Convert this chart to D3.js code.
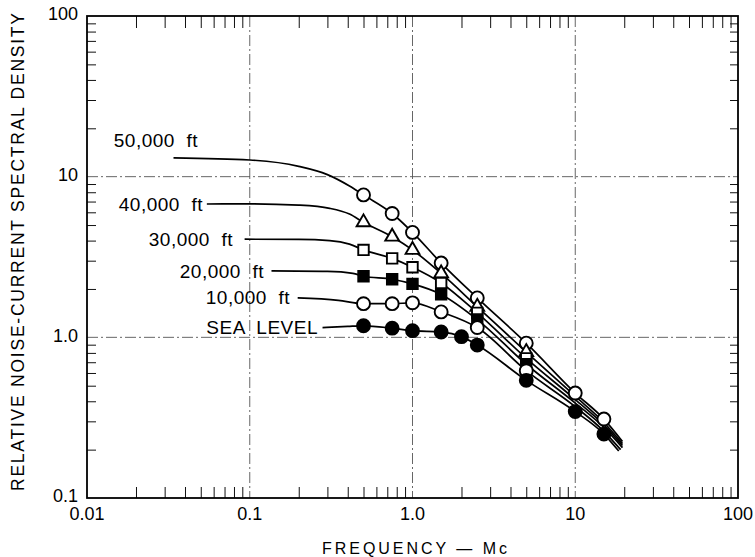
<!DOCTYPE html>
<html>
<head>
<meta charset="utf-8">
<script src="https://cdn.jsdelivr.net/npm/d3@7"></script>
<style>
  html, body { margin: 0; padding: 0; background: #fff; }
  svg { display: block; font-family: "Liberation Sans", Arial, Helvetica, sans-serif; }
  text { white-space: pre; }
</style>
</head>
<body>
<svg id="chart" width="755" height="557"></svg>
<script>
// ---------- DATA ----------
const seriesNames = ["50,000  ft", "40,000  ft", "30,000  ft", "20,000  ft", "10,000  ft", "SEA  LEVEL"];
const markerShapes = ["openCircle", "openTriangle", "openSquare", "filledSquare", "openCircle", "filledCircle"];

// curve points (frequency in Mc, relative density)
const s50k_f = [0.034, 0.1, 0.2, 0.3, 0.41, 0.5, 0.75, 1.0, 1.5, 2.5, 5, 10, 15, 19.5];
const s50k_v = [13.1, 12.7, 11.6, 10.3, 8.75, 7.7, 5.9, 4.5, 2.9, 1.76, 0.92, 0.45, 0.31, 0.225];
const s40k_f = [0.0545, 0.1, 0.2, 0.31, 0.41, 0.5, 0.75, 1.0, 1.5, 2.5, 5, 10, 15, 19.5];
const s40k_v = [6.76, 6.78, 6.65, 6.35, 5.85, 5.2, 4.23, 3.5, 2.5, 1.55, 0.81, 0.43, 0.295, 0.218];
const s30k_f = [0.093, 0.2, 0.31, 0.41, 0.5, 0.75, 1.0, 1.5, 2.5, 5, 10, 15, 19.5];
const s30k_v = [4.08, 4.07, 4.0, 3.8, 3.5, 3.1, 2.73, 2.18, 1.42, 0.74, 0.41, 0.285, 0.212];
const s20k_f = [0.136, 0.3, 0.43, 0.5, 0.75, 1.0, 1.5, 2.5, 5, 10, 15, 19.5];
const s20k_v = [2.59, 2.57, 2.5, 2.4, 2.3, 2.15, 1.85, 1.29, 0.68, 0.39, 0.275, 0.206];
const s10k_f = [0.197, 0.35, 0.5, 0.75, 1.0, 1.5, 2.5, 5, 10, 15, 19];
const s10k_v = [1.76, 1.7, 1.62, 1.62, 1.64, 1.44, 1.15, 0.62, 0.37, 0.26, 0.2];
const sSea_f = [0.28, 0.4, 0.5, 0.75, 1.0, 1.5, 2.0, 2.5, 5, 10, 15, 18.5];
const sSea_v = [1.15, 1.17, 1.18, 1.14, 1.1, 1.08, 1.01, 0.895, 0.54, 0.345, 0.25, 0.196];

// frequencies where a marker is plotted
const s50k_marks = [0.5, 0.75, 1.0, 1.5, 2.5, 5, 10, 15];
const s40k_marks = [0.5, 0.75, 1.0, 1.5, 2.5, 5];
const s30k_marks = [0.5, 0.75, 1.0, 1.5, 2.5, 5];
const s20k_marks = [0.5, 0.75, 1.0, 1.5, 2.5, 5];
const s10k_marks = [0.5, 0.75, 1.0, 1.5, 2.5, 5];
const sSea_marks = [0.5, 0.75, 1.0, 1.5, 2.0, 2.5, 5, 10, 15];

const xTickValues = [0.01, 0.1, 1, 10, 100];
const xTickLabels = ["0.01", "0.1", "1.0", "10", "100"];
const yTickValues = [0.1, 1, 10, 100];
const yTickLabels = ["0.1", "1.0", "10", "100"];
const xGridValues = [0.1, 1, 10];
const yGridValues = [1, 10];

const xTitle = "FREQUENCY — Mc";
const yTitle = "RELATIVE NOISE-CURRENT SPECTRAL DENSITY";

// ---------- BUILD ----------
const curvesF = [s50k_f, s40k_f, s30k_f, s20k_f, s10k_f, sSea_f];
const curvesV = [s50k_v, s40k_v, s30k_v, s20k_v, s10k_v, sSea_v];
const marks = [s50k_marks, s40k_marks, s30k_marks, s20k_marks, s10k_marks, sSea_marks];

const series = seriesNames.map((name, i) => {
  const pts = curvesF[i].map((f, j) => ({ f, v: curvesV[i][j] }));
  return {
    name, shape: markerShapes[i], pts,
    markers: pts.filter(p => marks[i].includes(p.f))
  };
});

const svg = d3.select("#chart");
const L = 87, R = 738, T = 16, B = 498;
const x = d3.scaleLog().domain([0.01, 100]).range([L, R]);
const y = d3.scaleLog().domain([0.1, 100]).range([B, T]);

// gridlines (dash-dot)
const grid = svg.append("g").attr("stroke", "#555").attr("stroke-width", 0.9)
  .attr("stroke-dasharray", "11,3,2,3").attr("fill", "none");
grid.selectAll("line.gx").data(xGridValues).join("line")
  .attr("x1", d => x(d)).attr("x2", d => x(d)).attr("y1", T).attr("y2", B);
grid.selectAll("line.gy").data(yGridValues).join("line")
  .attr("y1", d => y(d)).attr("y2", d => y(d)).attr("x1", L).attr("x2", R);

// inward minor ticks via d3 axes
const minorFmt = () => "";
const xMinor = x.ticks().filter(t => !xTickValues.some(v => Math.abs(v - t) / v < 1e-9));
const yMinor = y.ticks().filter(t => !yTickValues.some(v => Math.abs(v - t) / v < 1e-9));

function styleAxis(g) {
  g.select(".domain").remove();
  g.selectAll(".tick line").attr("stroke", "#111").attr("stroke-width", 1);
}
svg.append("g").attr("transform", `translate(0,${B})`)
  .call(d3.axisBottom(x).tickValues(xMinor).tickSize(-11).tickFormat(minorFmt)).call(styleAxis);
svg.append("g").attr("transform", `translate(0,${T})`)
  .call(d3.axisTop(x).tickValues(xMinor).tickSize(-12).tickFormat(minorFmt)).call(styleAxis);
svg.append("g").attr("transform", `translate(${L},0)`)
  .call(d3.axisLeft(y).tickValues(yMinor).tickSize(-9).tickFormat(minorFmt)).call(styleAxis);
svg.append("g").attr("transform", `translate(${R},0)`)
  .call(d3.axisRight(y).tickValues(yMinor).tickSize(-8).tickFormat(minorFmt)).call(styleAxis);

// frame
svg.append("rect").attr("x", L).attr("y", T).attr("width", R - L).attr("height", B - T)
  .attr("fill", "none").attr("stroke", "#000").attr("stroke-width", 1.8);

// tick labels
svg.append("g").selectAll("text").data(xTickValues).join("text")
  .attr("x", d => x(d)).attr("y", B + 16).attr("dy", "0.35em")
  .attr("text-anchor", "middle").attr("font-size", 18).attr("fill", "#000")
  .text((d, i) => xTickLabels[i]);
svg.append("g").selectAll("text").data(yTickValues).join("text")
  .attr("x", L - 9).attr("y", d => y(d) - 2).attr("dy", "0.35em")
  .attr("text-anchor", "end").attr("font-size", 18).attr("fill", "#000")
  .text((d, i) => yTickLabels[i]);

// axis titles
svg.append("text").attr("x", 322).attr("y", 548).attr("dy", "0.35em")
  .attr("font-size", 16).attr("textLength", 185).attr("lengthAdjust", "spacing")
  .attr("fill", "#000").text(xTitle);
svg.append("text").attr("transform", "translate(18,252) rotate(-90)")
  .attr("text-anchor", "middle").attr("dy", "0.35em")
  .attr("font-size", 17.5).attr("textLength", 478).attr("lengthAdjust", "spacing")
  .attr("fill", "#000").text(yTitle);

// curves
const line = d3.line().x(d => x(d.f)).y(d => y(d.v)).curve(d3.curveMonotoneX);
svg.append("g").selectAll("path").data(series).join("path")
  .attr("d", d => line(d.pts)).attr("fill", "none")
  .attr("stroke", "#000").attr("stroke-width", 1.7);

// markers
const symType = { openCircle: d3.symbolCircle, filledCircle: d3.symbolCircle,
  openSquare: d3.symbolSquare, filledSquare: d3.symbolSquare, openTriangle: d3.symbolTriangle };
const symSize = { openCircle: 132, filledCircle: 132, openSquare: 110, filledSquare: 110, openTriangle: 82 };
series.forEach(s => {
  const filled = s.shape.startsWith("filled");
  svg.append("g").selectAll("path").data(s.markers).join("path")
    .attr("transform", d => `translate(${x(d.f)},${y(d.v)})`)
    .attr("d", d3.symbol().type(symType[s.shape]).size(symSize[s.shape]))
    .attr("fill", filled ? "#000" : "#fff")
    .attr("stroke", "#000").attr("stroke-width", 1.9);
});

// series labels (right edge x, centre y)
const labelRight = [198, 203, 233, 264, 290, 318];
const labelY = [140, 204, 239, 271, 297, 327];
svg.append("g").selectAll("text").data(series).join("text")
  .attr("x", (d, i) => labelRight[i]).attr("y", (d, i) => labelY[i]).attr("dy", "0.35em")
  .attr("text-anchor", "end").attr("font-size", 19).attr("letter-spacing", 0.5)
  .attr("fill", "#000")
  .text(d => d.name);
</script>
</body>
</html>
